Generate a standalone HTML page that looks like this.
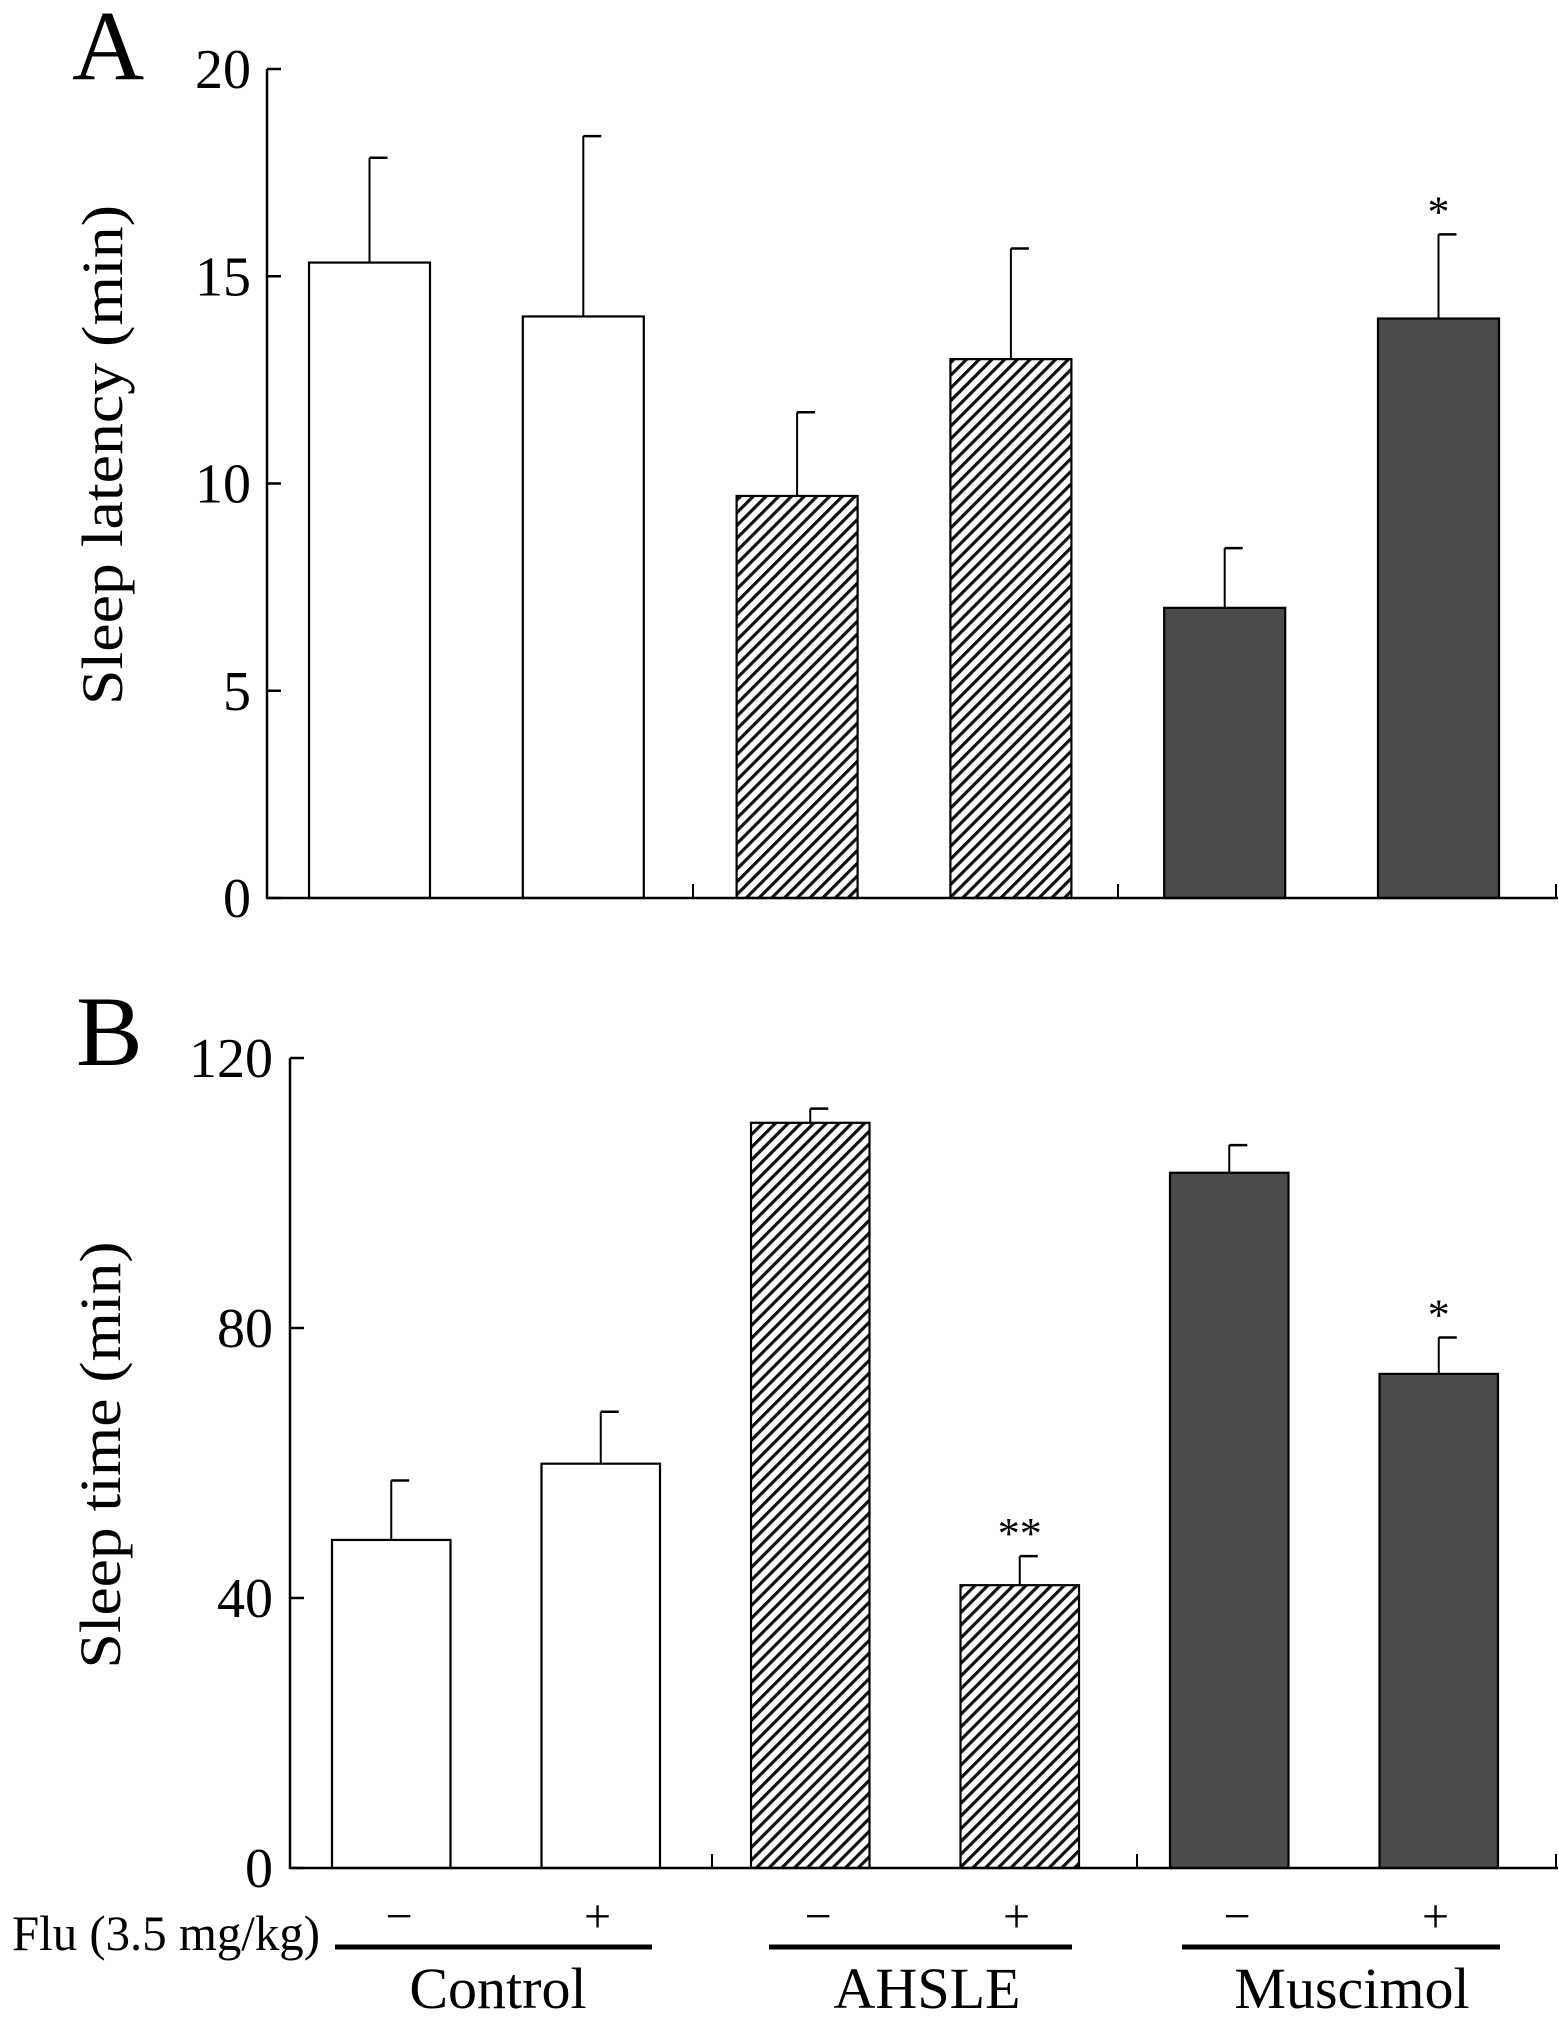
<!DOCTYPE html>
<html><head><meta charset="utf-8">
<style>
html,body{margin:0;padding:0;background:#fff;}
svg{display:block;}
text{font-family:"Liberation Serif",serif;fill:#000;}
</style></head>
<body>
<svg id="fig" width="1559" height="2021" viewBox="0 0 1559 2021" xmlns="http://www.w3.org/2000/svg">
<defs>
<pattern id="hatch" patternUnits="userSpaceOnUse" width="9" height="9" patternTransform="rotate(45)">
<rect width="9" height="9" fill="#fff"/>
<rect x="0" y="0" width="3.2" height="9" fill="#111"/>
</pattern>
</defs>
<g id="panelA"></g>
<g id="panelB"></g>
<g id="xlabels"></g>
</svg>
<script>
const categories = ["Control -", "Control +", "AHSLE -", "AHSLE +", "Muscimol -", "Muscimol +"];
const latencyValues = [15.33, 14.03, 9.70, 13.0, 7.0, 13.98];
const latencyErrors = [2.53, 4.35, 2.02, 2.67, 1.44, 2.03];
const latencyStars = ["", "", "", "", "", "*"];
const latencyTicks = [0, 5, 10, 15, 20];
const sleepValues = [48.6, 59.9, 110.4, 41.9, 103.0, 73.2];
const sleepErrors = [8.8, 7.7, 2.1, 4.3, 4.1, 5.4];
const sleepStars = ["", "", "", "**", "", "*"];
const sleepTicks = [0, 40, 80, 120];
const fluSigns = ["\u2212", "+", "\u2212", "+", "\u2212", "+"];
const groupNames = ["Control", "AHSLE", "Muscimol"];

const NS = "http://www.w3.org/2000/svg";
const fills = ["#fff", "#fff", "url(#hatch)", "url(#hatch)", "#4b4b4b", "#4b4b4b"];
function mk(parent, tag, attrs, txt) {
  const e = document.createElementNS(NS, tag);
  for (const k in attrs) e.setAttribute(k, attrs[k]);
  if (txt !== undefined) e.textContent = txt;
  parent.appendChild(e);
  return e;
}

function drawPanel(g, cfg) {
  const y = v => cfg.y0 + (cfg.y1 - cfg.y0) * (v - cfg.vmin) / (cfg.vmax - cfg.vmin);
  const x = i => cfg.barX0 + i * cfg.barStep;
  const L = mk(g, "text", {x: cfg.letterX, y: cfg.letterY, "font-size": 100});
  L.textContent = cfg.letter;
  
  
  const T = mk(g, "text", {x: 0, y: 0, "font-size": 58, "text-anchor": "middle",
    transform: `translate(${cfg.titleX},${cfg.titleY}) rotate(-90)`, textLength: cfg.titleLen, lengthAdjust: "spacingAndGlyphs"});
  T.textContent = cfg.title;
  
  
  cfg.values.forEach((v, i) => {
    const bx = x(i), top = y(v), bot = y(0);
    const et = y(v + cfg.errors[i]);
    const cx = bx + cfg.barW / 2;
    const eb = mk(g, "line", {x1: cx, x2: cx, y1: top, y2: et, stroke: "#000", "stroke-width": 2});
    
    
    const ec = mk(g, "line", {x1: cx, x2: cx + 18, y1: et, y2: et, stroke: "#000", "stroke-width": 2.5});
    
    
    const r = mk(g, "rect", {x: bx, y: top, width: cfg.barW, height: bot - top, fill: fills[i], stroke: "#000", "stroke-width": 2.2});
    
    
    if (cfg.stars[i]) {
      const s = mk(g, "text", {x: cx, y: et - 8, "font-size": 44, "text-anchor": "middle"});
      s.textContent = cfg.stars[i];
      
      
    }
  });
  const ya = mk(g, "line", {x1: cfg.axisX, x2: cfg.axisX, y1: y(cfg.vmax), y2: y(0) + 1, stroke: "#000", "stroke-width": 2.5});
  
  
  const xa = mk(g, "line", {x1: cfg.axisX, x2: cfg.axisEnd, y1: y(0), y2: y(0), stroke: "#000", "stroke-width": 2.5});
  
  
  cfg.seps.forEach(sx => {
    const t = mk(g, "line", {x1: sx, x2: sx, y1: y(0), y2: y(0) - 14, stroke: "#000", "stroke-width": 2});
    
    
  });
  cfg.ticks.forEach(tv => {
    const t = mk(g, "line", {x1: cfg.axisX, x2: cfg.axisX + 14, y1: y(tv), y2: y(tv), stroke: "#000", "stroke-width": 2.5});
    
    
    const lb = mk(g, "text", {x: cfg.labelRight, y: y(tv) + 19, "font-size": 56, "text-anchor": "end"});
    lb.textContent = String(tv);
    
    
  });
}

drawPanel(document.getElementById("panelA"), {
  letter: "A", letterX: 72, letterY: 79,
  title: "Sleep latency (min)", titleX: 122, titleY: 455, titleLen: 500,
  vmin: 0, vmax: 20, y0: 898, y1: 69,
  axisX: 267, axisEnd: 1558, seps: [693, 1118, 1556],
  barX0: 309, barStep: 213.8, barW: 121,
  values: latencyValues, errors: latencyErrors, stars: latencyStars,
  ticks: latencyTicks, labelRight: 251
});
drawPanel(document.getElementById("panelB"), {
  letter: "B", letterX: 76, letterY: 1065,
  title: "Sleep time (min)", titleX: 120, titleY: 1455, titleLen: 427,
  vmin: 0, vmax: 120, y0: 1868, y1: 1058,
  axisX: 290, axisEnd: 1558, seps: [712, 1137, 1556],
  barX0: 332, barStep: 209.5, barW: 118.5,
  values: sleepValues, errors: sleepErrors, stars: sleepStars,
  ticks: sleepTicks, labelRight: 273
});

const xg = document.getElementById("xlabels");
const flu = mk(xg, "text", {x: 12, y: 1950, "font-size": 50, textLength: 308, lengthAdjust: "spacingAndGlyphs"});
flu.textContent = "Flu (3.5 mg/kg)";


fluSigns.forEach((s, i) => {
  const cx = 332 + i * 209.5 + 59 + (i % 2 === 0 ? 8 : -3);
  const t = mk(xg, "text", {x: cx, y: 1932, "font-size": 48, "text-anchor": "middle"});
  t.textContent = s;
  
  
});
const lineX1 = [335, 769, 1182], lineX2 = [652, 1072, 1500], labelCx = [498, 927, 1352];
groupNames.forEach((n, gi) => {
  const ln = mk(xg, "line", {x1: lineX1[gi], x2: lineX2[gi], y1: 1947, y2: 1947, stroke: "#000", "stroke-width": 5});
  
  
  const t = mk(xg, "text", {x: labelCx[gi], y: 2008, "font-size": 58, "text-anchor": "middle"});
  t.textContent = n;
  
  
});
</script>
</body></html>
